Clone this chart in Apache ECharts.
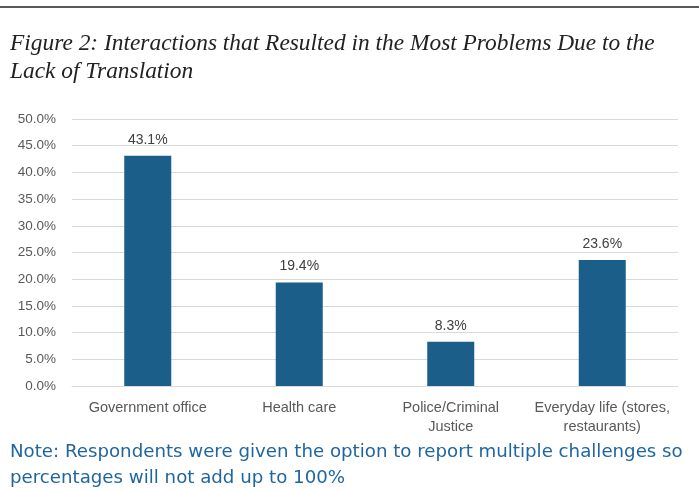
<!DOCTYPE html>
<html><head><meta charset="utf-8">
<script src="https://cdn.jsdelivr.net/npm/echarts@6/dist/echarts.min.js"></script>
<style>html,body{margin:0;padding:0;background:#fff;}#c{width:699px;height:491px;}</style>
</head><body><div id="c"></div>
<script>
const categories = ['Government office', 'Health care', 'Police/Criminal\nJustice', 'Everyday life (stores,\nrestaurants)'];
const values = [43.1, 19.4, 8.3, 23.6];
const yTicks = [0, 5, 10, 15, 20, 25, 30, 35, 40, 45, 50];
const titleText = 'Figure 2: Interactions that Resulted in the Most Problems Due to the\nLack of Translation';
const noteText = 'Note: Respondents were given the option to report multiple challenges so\npercentages will not add up to 100%';

const chart = echarts.init(document.getElementById('c'));
chart.setOption({
  backgroundColor: '#fff',
  animation: false,
  graphic: [
    { type: 'line', shape: { x1: 0, y1: 7, x2: 699, y2: 7 }, style: { stroke: '#222', lineWidth: 1.5 } },
    { type: 'text', left: 10, top: 30, style: { text: titleText, font: 'italic 23.4px "Liberation Serif", serif', fill: '#222', lineHeight: 28 } },
    { type: 'text', left: 10, top: 439, style: { text: noteText, font: '18.2px "DejaVu Sans", sans-serif', fill: '#1f65a0', lineHeight: 26 } }
  ],
  grid: { left: 72, right: 21, top: 119, bottom: 105 },
  xAxis: {
    type: 'category', data: categories,
    axisLine: { lineStyle: { color: '#d9d9d9' } },
    axisTick: { show: false },
    axisLabel: { interval: 0, color: '#595959', fontSize: 14.5, fontFamily: '"Liberation Sans", Arial, sans-serif', lineHeight: 19, margin: 12 }
  },
  yAxis: {
    type: 'value', min: yTicks[0], max: yTicks[yTicks.length - 1], interval: 5,
    axisLine: { show: false }, axisTick: { show: false },
    splitLine: { lineStyle: { color: '#d9d9d9' } },
    axisLabel: { color: '#595959', fontSize: 13.5, fontFamily: '"Liberation Sans", Arial, sans-serif', margin: 16, formatter: v => v.toFixed(1) + '%' }
  },
  series: [{
    type: 'bar', data: values, barWidth: 47,
    itemStyle: { color: '#1b5e8a' },
    label: { show: true, position: 'top', distance: 9, color: '#404040', fontSize: 14, fontFamily: '"Liberation Sans", Arial, sans-serif', formatter: p => p.value.toFixed(1) + '%' }
  }]
});
</script></body></html>
